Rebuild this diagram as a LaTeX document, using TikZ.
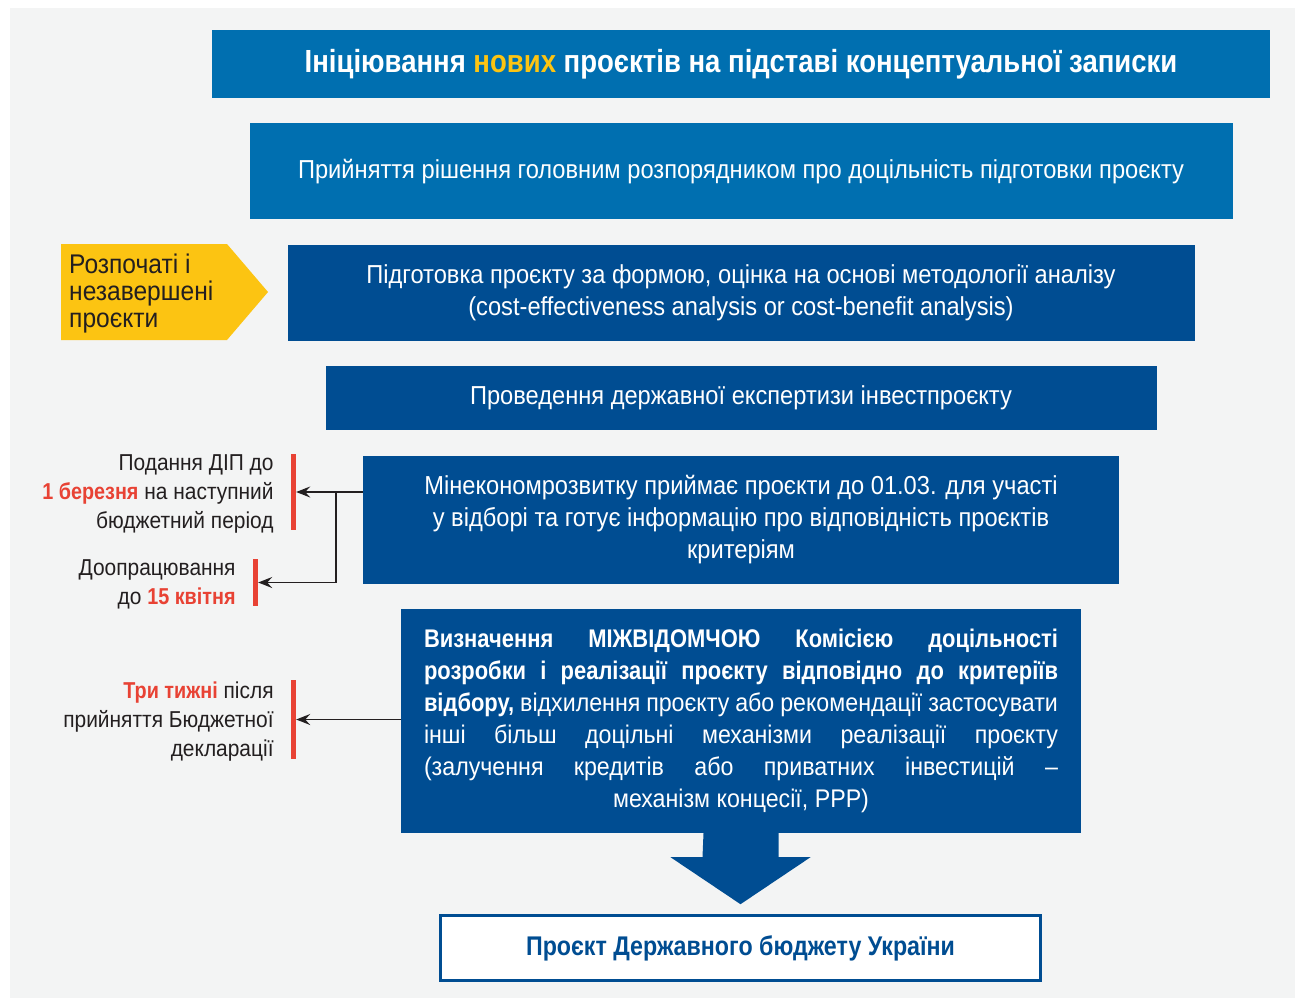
\documentclass[tikz,border=0pt]{standalone}
\usepackage{fontspec}
\setmainfont{Liberation Sans}[FakeStretch=0.91, BoldFeatures={FakeStretch=0.86}]
\usetikzlibrary{positioning,calc,arrows.meta}
\definecolor{lightblue}{RGB}{0,111,176}
\definecolor{darkblue}{RGB}{0,77,146}
\definecolor{gold}{RGB}{252,196,18}
\definecolor{alert}{RGB}{232,66,52}
\definecolor{bggray}{RGB}{243,244,244}
\definecolor{ink}{RGB}{35,31,32}
\newcommand{\fullline}[1]{\hbox to\hsize{#1}}
\tikzstyle{stagebox} = [fill=lightblue, text=white, inner sep=0pt, align=center, font=\fontsize{26}{32}\selectfont]
\tikzstyle{darkbox} = [stagebox, fill=darkblue]
\tikzstyle{note} = [inner sep=0pt, align=right, text=ink, font=\fontsize{23}{29}\selectfont, yshift=-2pt]
\tikzstyle{redbar} = [fill=alert, minimum width=5pt, inner sep=0pt]
\tikzstyle{to} = [-{Stealth[length=14pt,width=11pt,inset=5pt]}, line width=1.3pt, draw=ink]

\begin{document}
\begin{tikzpicture}[x=1pt, y=-1pt, node distance=25pt]
	\useasboundingbox (0,0) rectangle (1295,998);
	\fill[bggray] (10,8) rectangle (1295,998);
	% main chain
	\node (title) [stagebox, minimum width=1058pt, minimum height=68pt, font=\fontsize{32}{36}\selectfont\bfseries] at (741,64)
		{Ініціювання {\color{gold}нових} проєктів на підставі концептуальної записки};
	\node (decision) [stagebox, below=of title, minimum width=983pt, minimum height=96pt]
		{Прийняття рішення головним розпорядником про доцільність підготовки проєкту};
	\node (prepare) [darkbox, below=of decision, minimum width=907pt, minimum height=96pt]
		{Підготовка проєкту за формою, оцінка на основі методології аналізу\\(cost-effectiveness analysis or cost-benefit analysis)};
	\node (review) [darkbox, below=of prepare, minimum width=831pt, minimum height=64pt]
		{Проведення державної експертизи інвестпроєкту};
	\node (ministry) [darkbox, below=of review, minimum width=756pt, minimum height=128pt]
		{Мінекономрозвитку приймає проєкти до 01.03. для участі\\у відборі та готує інформацію про відповідність проєктів\\критеріям};
	\node (select) [darkbox, below=of ministry, minimum width=680pt, minimum height=224pt, font=\fontsize{25.5}{32}\selectfont]
		{\vbox{\hsize=634pt
		\fullline{\bfseries Визначення МІЖВІДОМЧОЮ Комісією доцільності}
		\fullline{\bfseries розробки і реалізації проєкту відповідно до критеріїв}
		\fullline{\textbf{відбору,} відхилення проєкту або рекомендації застосувати}
		\fullline{інші більш доцільні механізми реалізації проєкту}
		\fullline{(залучення кредитів або приватних інвестицій –}
		\fullline{\hfil механізм концесії, PPP)\hfil}}};
	\node (budget) [draw=darkblue, line width=3pt, fill=white, text=darkblue, inner sep=0pt, minimum width=600pt, minimum height=65pt,
		font=\fontsize{27}{32}\selectfont\bfseries] at (740.5,948) {Проєкт Державного бюджету України};
	\fill[darkblue] (select.south) ++(-37.5,0) -- ++(75,0) -- ++(0,24) -- ++(32,0) -- ++(-70,47) -- ++(-70,-47) -- ++(32,0) -- cycle;
	% side notes
	\fill[gold] (61,244) -- (227,244) -- (268,292) -- (227,340) -- (61,340) -- cycle;
	\node (ongoing) [note, anchor=west, align=left, font=\fontsize{27}{27}\selectfont] at (69,292) {Розпочаті і\\незавершені\\проєкти};
	\node (bar1) [redbar, minimum height=76pt] at (293.5,492) {};
	\node (bar2) [redbar, minimum height=47pt] at (255.5,582.5) {};
	\node (bar3) [redbar, minimum height=79pt] at (293.5,719.5) {};
	\node (deadline) [note, left=17pt of bar1] {Подання ДІП до\\{\color{alert}\bfseries 1 березня} на наступний\\бюджетний період};
	\node (rework) [note, left=17pt of bar2] {Доопрацювання\\до {\color{alert}\bfseries 15 квітня}};
	\node (weeks) [note, left=17pt of bar3] {{\color{alert}\bfseries Три тижні} після\\прийняття Бюджетної\\декларації};
	\coordinate (split) at (336,492);
	\draw [to] (ministry.west |- bar1) -- (bar1.east);
	\draw [to] (split) |- (bar2.east);
	\draw [to] (select.west |- bar3) -- (bar3.east);
\end{tikzpicture}
\end{document}
